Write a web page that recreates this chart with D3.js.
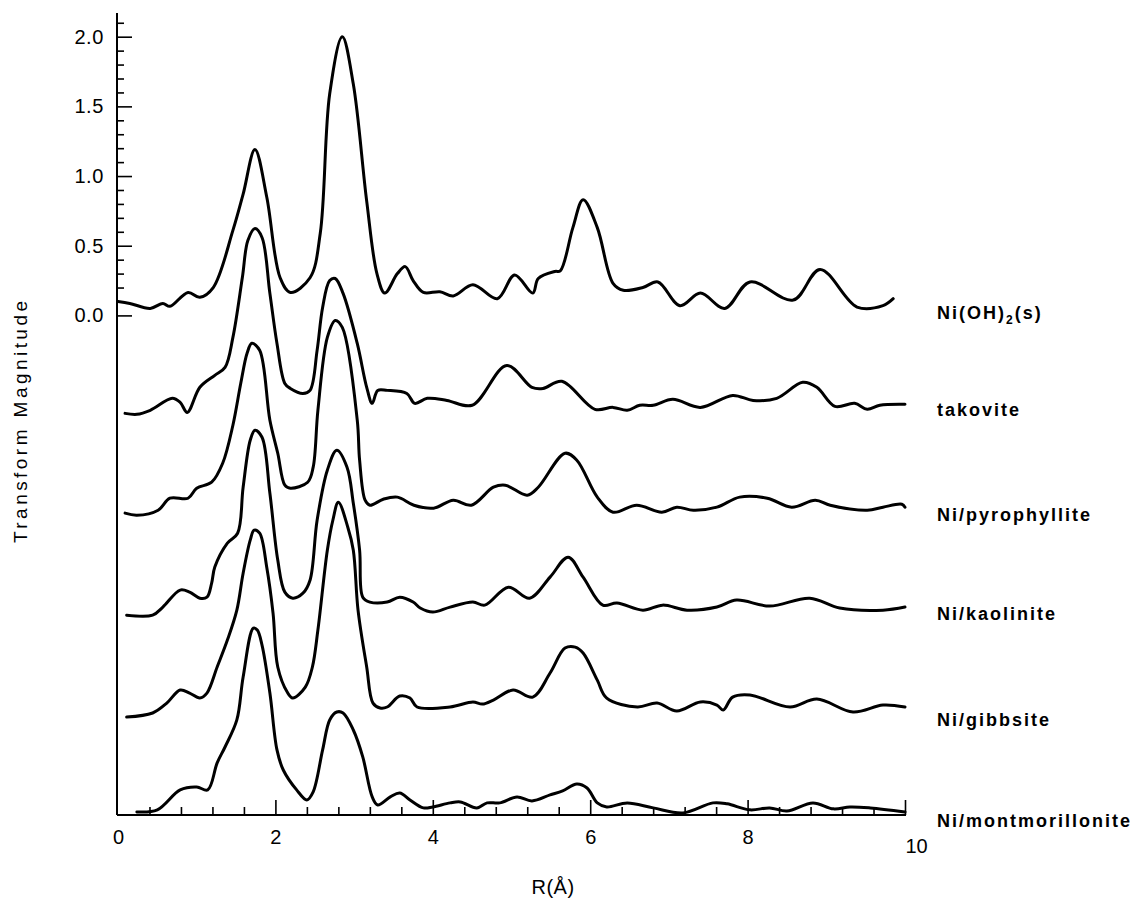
<!DOCTYPE html>
<html>
<head>
<meta charset="utf-8">
<script src="https://cdn.jsdelivr.net/npm/d3@7/dist/d3.min.js"></script>
<style>
  html, body { margin: 0; padding: 0; background: #fff; }
  svg { display: block; }
  text { font-family: "Liberation Sans", Arial, Helvetica, sans-serif; fill: #000; }
</style>
</head>
<body>
<svg id="chart" width="1140" height="905"></svg>
<script>
// ---------------- DATA (R in Å, transform magnitude above each curve's own baseline) ----------------
const seriesNames = ["Ni(OH)2(s)", "takovite", "Ni/pyrophyllite", "Ni/kaolinite", "Ni/gibbsite", "Ni/montmorillonite"];
const seriesOffsets = [0, -0.75, -1.45, -2.2, -2.95, -3.58];

const niOH2 = [[0,0.10],[0.15,0.086],[0.41,0.05],[0.57,0.086],[0.66,0.065],[0.89,0.165],[1.04,0.13],[1.21,0.20],
  [1.46,0.61],[1.59,0.87],[1.74,1.19],[1.89,0.85],[2.06,0.27],[2.19,0.165],[2.44,0.27],[2.57,0.59],[2.69,1.59],
  [2.85,2.0],[2.99,1.66],[3.16,0.82],[3.29,0.30],[3.39,0.16],[3.55,0.30],[3.65,0.35],[3.75,0.25],[3.88,0.165],
  [4.09,0.17],[4.26,0.14],[4.51,0.22],[4.82,0.12],[5.04,0.29],[5.27,0.16],[5.34,0.265],[5.55,0.315],[5.62,0.32],
  [5.78,0.63],[5.91,0.83],[6.09,0.63],[6.29,0.23],[6.42,0.18],[6.67,0.20],[6.86,0.24],[7.14,0.07],[7.40,0.16],
  [7.71,0.05],[8.03,0.24],[8.58,0.11],[8.92,0.33],[9.39,0.06],[9.72,0.07],[9.85,0.12]];

const takovite = [[0.09,0.047],[0.24,0.04],[0.41,0.069],[0.69,0.155],[0.79,0.126],[0.88,0.054],[1.04,0.234],
  [1.23,0.32],[1.36,0.377],[1.46,0.592],[1.58,1.022],[1.65,1.287],[1.74,1.373],[1.83,1.309],[1.93,0.908],
  [2.02,0.549],[2.12,0.262],[2.19,0.226],[2.35,0.19],[2.44,0.212],[2.53,0.499],[2.60,0.807],[2.69,1.0],
  [2.76,1.015],[2.86,0.908],[3.04,0.549],[3.16,0.234],[3.23,0.119],[3.30,0.212],[3.42,0.212],[3.67,0.19],
  [3.77,0.119],[3.93,0.155],[4.18,0.14],[4.50,0.105],[4.94,0.391],[5.26,0.234],[5.40,0.226],[5.64,0.277],
  [6.06,0.076],[6.29,0.09],[6.47,0.069],[6.63,0.105],[6.80,0.105],[7.05,0.148],[7.40,0.09],[7.81,0.176],
  [8.07,0.14],[8.37,0.155],[8.70,0.27],[8.88,0.234],[9.11,0.097],[9.36,0.119],[9.52,0.076],[9.68,0.105],[10.0,0.112]];

const pyrophyllite = [[0.09,0.031],[0.24,0.016],[0.51,0.052],[0.66,0.138],[0.89,0.138],[1.00,0.21],[1.19,0.253],
  [1.33,0.389],[1.46,0.662],[1.56,0.963],[1.64,1.178],[1.70,1.25],[1.80,1.2],[1.93,0.698],[2.03,0.461],
  [2.12,0.232],[2.19,0.21],[2.41,0.253],[2.48,0.361],[2.54,0.769],[2.66,1.292],[2.76,1.414],[2.85,1.364],
  [3.04,0.698],[3.07,0.411],[3.14,0.124],[3.20,0.088],[3.37,0.131],[3.55,0.146],[3.76,0.088],[4.01,0.067],
  [4.26,0.124],[4.49,0.088],[4.77,0.217],[4.92,0.232],[5.20,0.16],[5.34,0.217],[5.68,0.461],[5.83,0.411],
  [6.09,0.146],[6.29,0.038],[6.59,0.088],[6.91,0.038],[7.10,0.074],[7.31,0.052],[7.61,0.074],[7.90,0.146],
  [8.25,0.138],[8.56,0.074],[8.86,0.124],[9.05,0.088],[9.52,0.052],[9.72,0.074],[9.96,0.095],[10.0,0.074]];

const kaolinite = [[0.11,0.049],[0.44,0.049],[0.57,0.107],[0.79,0.229],[0.91,0.214],[1.04,0.171],[1.13,0.178],
  [1.19,0.279],[1.23,0.394],[1.39,0.566],[1.52,0.637],[1.59,0.967],[1.68,1.304],[1.74,1.376],[1.83,1.326],
  [1.93,0.924],[2.03,0.444],[2.12,0.214],[2.22,0.171],[2.35,0.207],[2.44,0.3],[2.53,0.73],[2.66,1.089],
  [2.78,1.232],[2.91,1.11],[2.99,0.852],[3.07,0.515],[3.11,0.178],[3.20,0.143],[3.42,0.143],[3.58,0.178],
  [3.75,0.143],[3.84,0.1],[4.00,0.071],[4.22,0.107],[4.51,0.143],[4.66,0.121],[4.96,0.25],[5.23,0.171],
  [5.49,0.322],[5.72,0.465],[5.91,0.322],[6.16,0.121],[6.34,0.136],[6.67,0.085],[6.92,0.121],[7.23,0.085],
  [7.61,0.107],[7.86,0.157],[8.28,0.114],[8.79,0.171],[9.17,0.1],[9.72,0.085],[10.0,0.107]];

const gibbsite = [[0.11,0.068],[0.44,0.097],[0.62,0.168],[0.79,0.262],[0.91,0.24],[1.04,0.204],[1.13,0.24],
  [1.26,0.427],[1.39,0.62],[1.51,0.835],[1.59,1.1],[1.68,1.337],[1.73,1.409],[1.80,1.387],[1.89,1.143],
  [1.97,0.814],[2.03,0.427],[2.15,0.247],[2.22,0.204],[2.38,0.283],[2.47,0.427],[2.54,0.692],[2.66,1.265],
  [2.73,1.48],[2.80,1.609],[2.92,1.43],[2.99,1.265],[3.05,0.835],[3.16,0.427],[3.24,0.168],[3.33,0.133],
  [3.42,0.14],[3.58,0.219],[3.71,0.204],[3.80,0.14],[4.22,0.14],[4.51,0.176],[4.63,0.161],[4.77,0.19],
  [5.02,0.262],[5.27,0.211],[5.49,0.384],[5.68,0.563],[5.81,0.57],[5.91,0.527],[6.09,0.333],[6.21,0.204],
  [6.60,0.14],[6.85,0.168],[7.10,0.111],[7.40,0.176],[7.61,0.154],[7.69,0.118],[7.81,0.211],[8.03,0.226],
  [8.54,0.14],[8.88,0.197],[9.34,0.104],[9.72,0.154],[10.0,0.14]];

const montmorillonite = [[0.24,0.017],[0.5,0.032],[0.79,0.175],[1.0,0.196],[1.14,0.175],[1.26,0.369],[1.36,0.483],
  [1.51,0.677],[1.59,0.985],[1.72,1.336],[1.77,1.322],[1.83,1.214],[1.93,0.87],[2.02,0.462],[2.10,0.318],
  [2.27,0.175],[2.40,0.103],[2.48,0.161],[2.60,0.462],[2.69,0.677],[2.78,0.734],[2.86,0.727],[2.99,0.605],
  [3.11,0.412],[3.23,0.125],[3.30,0.067],[3.46,0.125],[3.58,0.153],[3.71,0.103],[3.88,0.046],[4.00,0.053],
  [4.22,0.082],[4.35,0.089],[4.56,0.046],[4.69,0.082],[4.85,0.082],[5.07,0.125],[5.26,0.096],[5.49,0.139],
  [5.65,0.168],[5.83,0.218],[5.96,0.189],[6.09,0.082],[6.21,0.053],[6.47,0.082],[6.80,0.046],[7.18,0.01],
  [7.56,0.082],[7.74,0.075],[8.03,0.032],[8.28,0.046],[8.50,0.024],[8.83,0.082],[9.09,0.039],[9.30,0.053],
  [9.56,0.046],[10.0,0.017]];

const seriesData = [niOH2, takovite, pyrophyllite, kaolinite, gibbsite, montmorillonite];

const xTickLabels = [0, 2, 4, 6, 8, 10];
const yTickLabels = [0.0, 0.5, 1.0, 1.5, 2.0];

// ---------------- LAYOUT ----------------
const svg = d3.select("#chart");
const x = d3.scaleLinear().domain([0, 10]).range([118, 905]);
const y = d3.scaleLinear().domain([-3.585, 2.17]).range([815, 13]);
const axisX = 117;       // pixel column of the y axis line
const labelDy = [-3, -10, -3, -8, -7, 6];
const fontStack = "Liberation Sans, Arial, sans-serif";

// axis lines
svg.append("line").attr("x1", axisX).attr("x2", axisX).attr("y1", y(2.17)).attr("y2", y(-3.585))
  .attr("stroke", "#000").attr("stroke-width", 2);
svg.append("line").attr("x1", axisX).attr("x2", x(10) + 1).attr("y1", y(-3.585)).attr("y2", y(-3.585))
  .attr("stroke", "#000").attr("stroke-width", 2);

// y ticks (inside, to the right)
const yMinor = d3.range(1, 22).map(d => d / 10).filter(d => Math.abs(d * 2 - Math.round(d * 2)) > 1e-6);
const yMinorAxis = d3.axisRight(y).tickValues(yMinor).tickSize(7).tickFormat("");
const yMajorAxis = d3.axisRight(y).tickValues(yTickLabels).tickSize(15).tickFormat("");
[yMinorAxis, yMajorAxis].forEach(ax => {
  const g = svg.append("g").attr("transform", `translate(${axisX},0)`).call(ax);
  g.select(".domain").remove();
  g.selectAll("line").attr("stroke", "#000").attr("stroke-width", 1.6);
});
const yLab = svg.append("g").attr("transform", `translate(${axisX},0)`)
  .call(d3.axisLeft(y).tickValues(yTickLabels).tickSize(0).tickPadding(13).tickFormat(d3.format(".1f")));
yLab.select(".domain").remove();
yLab.selectAll("text").style("font-size", "20px").style("letter-spacing", "0.6px").style("font-family", fontStack);

// x ticks (inside, upward)
const xMinor = d3.range(1, 26).map(d => d * 0.4).filter(d => Math.abs(d / 2 - Math.round(d / 2)) > 1e-6);
const xMinorAxis = d3.axisTop(x).tickValues(xMinor).tickSize(8).tickFormat("");
const xMajorAxis = d3.axisTop(x).tickValues(xTickLabels.filter(d => d > 0)).tickSize(15).tickFormat("");
[xMinorAxis, xMajorAxis].forEach(ax => {
  const g = svg.append("g").attr("transform", `translate(0,${y(-3.585)})`).call(ax);
  g.select(".domain").remove();
  g.selectAll("line").attr("stroke", "#000").attr("stroke-width", 1.6);
});
const xLab = svg.append("g").attr("transform", `translate(0,${y(-3.585)})`)
  .call(d3.axisBottom(x).tickValues(xTickLabels).tickSize(0).tickPadding(15).tickFormat(d3.format("d")));
xLab.select(".domain").remove();
xLab.selectAll("text").style("font-size", "20px").style("font-family", fontStack);
xLab.selectAll(".tick").filter(d => d === 10).select("text").attr("x", 11).attr("y", 24);

// axis titles
svg.append("text").attr("transform", `translate(27,422) rotate(-90)`).attr("text-anchor", "middle")
  .style("font-size", "19px").style("font-family", fontStack)
  .attr("textLength", 242).attr("lengthAdjust", "spacing").text("Transform Magnitude");
svg.append("text").attr("x", 553).attr("y", 894).attr("text-anchor", "middle")
  .style("font-size", "20px").style("font-family", fontStack).style("letter-spacing", "0.5px").text("R(Å)");

// curves
const line = d3.line().curve(d3.curveCatmullRom.alpha(0.5));
seriesData.forEach((pts, i) => {
  svg.append("path")
    .attr("d", line(pts.map(p => [x(p[0]), y(p[1] + seriesOffsets[i])])))
    .attr("fill", "none").attr("stroke", "#000").attr("stroke-width", 3)
    .attr("stroke-linejoin", "round").attr("stroke-linecap", "round");
});

// series labels
seriesNames.forEach((name, i) => {
  const t = svg.append("text").attr("x", x(10) + 32).attr("y", y(seriesOffsets[i]) + labelDy[i])
    .attr("dy", "0.35em").style("font-size", "18px").style("font-weight", "bold")
    .style("font-family", fontStack).style("letter-spacing", "2px");
  if (name === "Ni(OH)2(s)") {
    t.append("tspan").text("Ni(OH)");
    t.append("tspan").attr("dy", "5").style("font-size", "12px").text("2");
    t.append("tspan").attr("dy", "-5").text("(s)");
  } else {
    t.text(name);
  }
});
</script>
</body>
</html>
